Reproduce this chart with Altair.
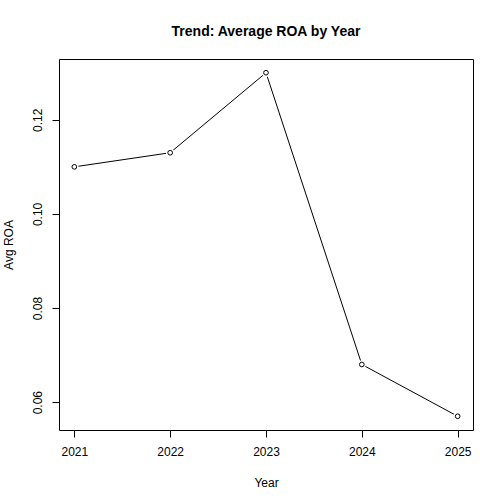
import altair as alt
import pandas as pd

years = [2021, 2022, 2023, 2024, 2025]
avg_roa = [0.110, 0.113, 0.130, 0.068, 0.057]
x_ticks = [2021, 2022, 2023, 2024, 2025]
y_ticks = [0.06, 0.08, 0.10, 0.12]

df = pd.DataFrame({"Year": years, "ROA": avg_roa})

FONT = "Liberation Sans"

xenc = alt.X("Year:Q", scale=alt.Scale(domain=[2020.84, 2025.16], nice=False, zero=False),
             axis=alt.Axis(values=x_ticks, format="d", title="Year", grid=False, domain=False,
                           tickSize=7, tickColor="black", labelFont=FONT, labelFontSize=12,
                           labelColor="black", labelPadding=9, titleFont=FONT, titleFontSize=12,
                           titleFontWeight="normal", titleColor="black", titlePadding=20,
                           labelFlush=False))
yenc = alt.Y("ROA:Q", scale=alt.Scale(domain=[0.05408, 0.13292], nice=False, zero=False),
             axis=alt.Axis(values=y_ticks, format=".2f", title="Avg ROA", grid=False, domain=False,
                           tickSize=7, tickColor="black", labelFont=FONT, labelFontSize=12,
                           labelColor="black", labelAngle=-90, labelAlign="center",
                           labelBaseline="bottom", labelPadding=8, titleFont=FONT, titleFontSize=12,
                           titleFontWeight="normal", titleColor="black", titlePadding=16,
                           labelFlush=False))

base = alt.Chart(df)
line = base.mark_line(color="black", strokeWidth=1).encode(x=xenc, y=yenc)
gap = base.mark_point(shape="circle", filled=True, color="white", opacity=1, size=70).encode(x=xenc, y=yenc)
pts = base.mark_point(shape="circle", filled=False, color="black", opacity=1, size=22, strokeWidth=1).encode(x=xenc, y=yenc)

chart = (line + gap + pts).properties(
    width=414, height=371,
    title=alt.TitleParams("Trend: Average ROA by Year", font=FONT, fontSize=14, fontWeight="bold",
                          color="black", anchor="middle", offset=20),
    autosize=alt.AutoSizeParams(type="none"),
    padding={"left": 59, "top": 59, "right": 31, "bottom": 74},
).configure(background="white").configure_view(stroke="black", strokeWidth=1, strokeOpacity=1)

chart.save("out.html", embed_options={"renderer": "svg", "actions": False})
